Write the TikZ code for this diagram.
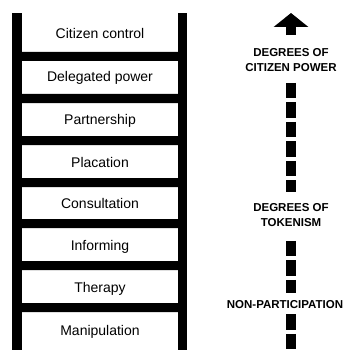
\documentclass[tikz,border=0pt]{standalone}
\usepackage{fontspec}
\setmainfont{Liberation Sans}
\usetikzlibrary{arrows.meta}

\begin{document}
\begin{tikzpicture}[x=1pt,y=-1pt,
  rung/.style={fill=black},
  rungtext/.style={anchor=base,font=\fontsize{14}{16}\selectfont,inner sep=0pt},
  degree/.style={align=center,font=\fontsize{11.5}{15}\selectfont\bfseries,inner sep=0pt},
  dashbar/.style={draw,line width=10pt,dash pattern=on 15.5pt off 4pt},
  bigarrow/.style={draw,line width=10pt,-{Triangle[width=34pt,length=14pt]}}]

\useasboundingbox (0,0) rectangle (347,350);

% rails
\fill (12,13) rectangle (22,350);
\fill (178,13) rectangle (187,350);

% rungs
\path [rung]
    (22,52) rectangle (178,61)
    (22,94) rectangle (178,103)
    (22,136) rectangle (178,145)
    (22,178) rectangle (178,187)
    (22,219) rectangle (178,228)
    (22,261) rectangle (178,270)
    (22,303) rectangle (178,312)
;

\node [rungtext] (control) at (100,39) {Citizen control};
\node [rungtext] (delegated) at (100,82) {Delegated power};
\node [rungtext] (partner) at (100,124) {Partnership};
\node [rungtext] (placation) at (100,167) {Placation};
\node [rungtext] (consult) at (100,208) {Consultation};
\node [rungtext] (inform) at (100,250) {Informing};
\node [rungtext] (therapy) at (100,292) {Therapy};
\node [rungtext] (manip) at (100,335) {Manipulation};

\node [degree] (power) at (291,60) {DEGREES OF\\CITIZEN POWER};
\node [degree] (tokenism) at (291,215) {DEGREES OF\\TOKENISM};
\node [degree] (nonpart) at (285,305) {NON-PARTICIPATION};

\coordinate (top) at (291,13);
\coordinate (bottom) at (291,350);

\path [bigarrow] ([yshift=13pt]power.north) -- (top);

\path [dashbar]
    ([yshift=-11pt]power.south) -- ([yshift=11pt]tokenism.north)
    ([yshift=-14pt]tokenism.south) -- ([yshift=8pt]tokenism.south |- nonpart.north)
    ([yshift=-5pt]tokenism.south |- nonpart.south) -- (bottom)
;

\end{tikzpicture}
\end{document}
